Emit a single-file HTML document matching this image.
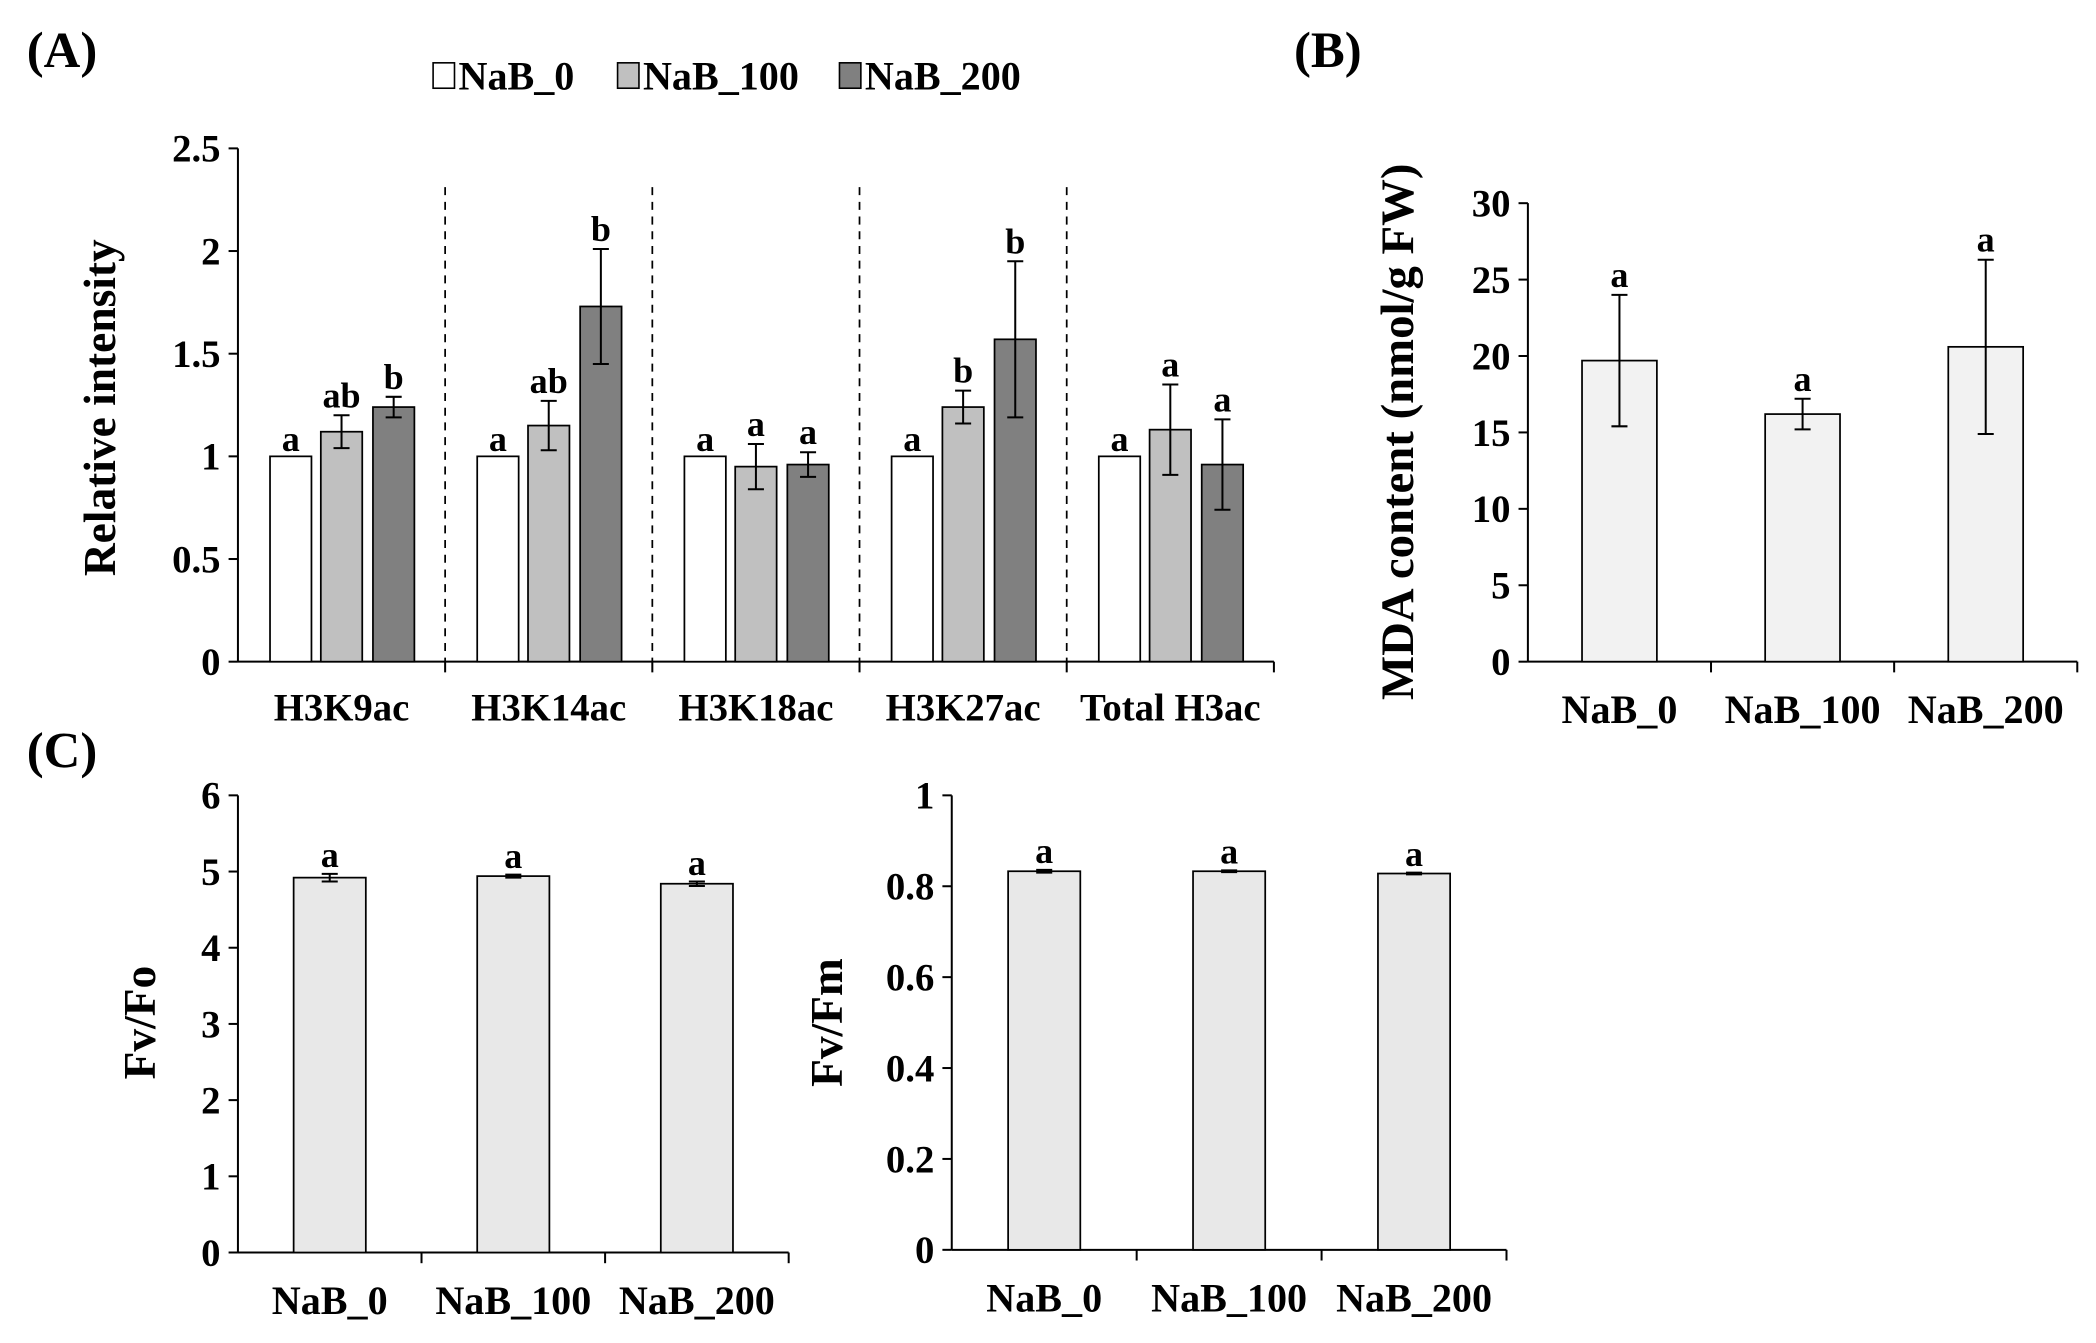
<!DOCTYPE html>
<html><head><meta charset="utf-8"><style>
html,body{margin:0;padding:0;background:#fff;}
svg{display:block;font-family:"Liberation Serif",serif;font-weight:bold;}
</style></head><body>
<svg id="fig" width="2096" height="1343" viewBox="0 0 1568 1004.7" preserveAspectRatio="none" xmlns="http://www.w3.org/2000/svg">
<text x="20" y="50" font-size="38">(A)</text>
<text x="968" y="50" font-size="38">(B)</text>
<text x="20" y="574" font-size="38">(C)</text>
<g>
<rect x="324" y="47" width="16" height="19" fill="#fff" stroke="#000" stroke-width="1.2"/>
<text x="343" y="67" font-size="30">NaB_0</text>
<rect x="462" y="47" width="16" height="19" fill="#c0c0c0" stroke="#000" stroke-width="1.2"/>
<text x="481" y="67" font-size="30">NaB_100</text>
<rect x="628" y="47" width="16" height="19" fill="#808080" stroke="#000" stroke-width="1.2"/>
<text x="647" y="67" font-size="30">NaB_200</text>
</g>
<g id="pa"></g>
<g id="pb"></g>
<g id="pc1"></g>
<g id="pc2"></g>
</svg>
<script>
// Panel A data
const aGroups = ["H3K9ac","H3K14ac","H3K18ac","H3K27ac","Total H3ac"];
const aNaB0 = [1,1,1,1,1];
const aNaB100 = [1.12,1.15,0.95,1.24,1.13];
const aNaB200 = [1.24,1.73,0.96,1.57,0.96];
const aErr0 = [0,0,0,0,0];
const aErr100 = [0.08,0.12,0.11,0.08,0.22];
const aErr200 = [0.05,0.28,0.06,0.38,0.22];
const aLet0 = ["a","a","a","a","a"];
const aLet100 = ["ab","ab","a","b","a"];
const aLet200 = ["b","b","a","b","a"];
const aTicks = [0,0.5,1,1.5,2,2.5];
const aTickLabels = ["0","0.5","1","1.5","2","2.5"];
// Panel B data
const bCats = ["NaB_0","NaB_100","NaB_200"];
const bVals = [19.7,16.2,20.6];
const bErr = [4.3,1.0,5.7];
const bLet = ["a","a","a"];
const bTicks = [0,5,10,15,20,25,30];
// Panel C data
const cCats = ["NaB_0","NaB_100","NaB_200"];
const cFvFo = [4.92,4.94,4.84];
const cFvFoErr = [0.05,0.02,0.03];
const cFvFm = [0.833,0.833,0.828];
const cFvFmErr = [0.003,0.002,0.002];
const cLet = ["a","a","a"];
const cFoTicks = [0,1,2,3,4,5,6];
const cFmTicks = [0,0.2,0.4,0.6,0.8,1];

const NS="http://www.w3.org/2000/svg";
function mk(parent,tag,attrs,txt){const e=document.createElementNS(NS,tag);for(const k in attrs)e.setAttribute(k,attrs[k]);if(txt!==undefined)e.textContent=txt;parent.appendChild(e);return e;}

function axes(g,o){
  const y=v=>o.y0-(v-o.min)/(o.max-o.min)*(o.y0-o.y1);
  const ax=mk(g,'line',{x1:o.x0,y1:o.y1,x2:o.x0,y2:o.y0,stroke:'#000','stroke-width':1.5});
  
  
  const xa=mk(g,'line',{x1:o.x0,y1:o.y0,x2:o.x2,y2:o.y0,stroke:'#000','stroke-width':1.5});
  
  
  o.ticks.forEach((t,i)=>{
    mk(g,'line',{x1:o.x0-7,y1:y(t),x2:o.x0,y2:y(t),stroke:'#000','stroke-width':1.5});
    const tl=mk(g,'text',{x:o.x0-13,y:y(t)+10,'font-size':29,'text-anchor':'end'},o.labels?o.labels[i]:String(t));
    
    
  });
  const lab=mk(g,'text',{transform:`translate(${o.lx},${o.ly}) rotate(-90)`,'font-size':o.lfs||34,'text-anchor':'middle'},o.title);
  
  
  return y;
}
function bar(g,x,w,y,v,e,fill,letter,y0,dy){
  const r=mk(g,'rect',{x:x,y:y(v),width:w,height:y0-y(v),fill:fill,stroke:'#000','stroke-width':1.3});
  
  
  const cx=x+w/2;
  if(e>0){
    mk(g,'line',{x1:cx,y1:y(v+e),x2:cx,y2:y(v-e),stroke:'#000','stroke-width':1.5});
    mk(g,'line',{x1:cx-6,y1:y(v+e),x2:cx+6,y2:y(v+e),stroke:'#000','stroke-width':1.5});
    mk(g,'line',{x1:cx-6,y1:y(v-e),x2:cx+6,y2:y(v-e),stroke:'#000','stroke-width':1.5});
  }
  const t=mk(g,'text',{x:cx,y:y(v+e)-(dy||6),'font-size':27,'text-anchor':'middle'},letter);
  
  
}

// Panel A
(function(){
  const g=document.getElementById('pa');
  const o={x0:178,x2:953,y0:495,y1:111,min:0,max:2.5,ticks:aTicks,labels:aTickLabels,title:'Relative intensity',lx:86,ly:305};
  const y=axes(g,o);
  const gw=155;
  aGroups.forEach((c,i)=>{
    const gx=o.x0+i*gw;
    mk(g,'line',{x1:gx+gw,y1:o.y0,x2:gx+gw,y2:o.y0+8,stroke:'#000','stroke-width':1.5});
    if(i<aGroups.length-1){const d=mk(g,'line',{x1:gx+gw,y1:140,x2:gx+gw,y2:o.y0,stroke:'#000','stroke-width':1.3,'stroke-dasharray':'6,5'});
      
      }
    bar(g,gx+24,31,y,aNaB0[i],aErr0[i],'#fff',aLet0[i],o.y0,4);
    bar(g,gx+62,31,y,aNaB100[i],aErr100[i],'#c0c0c0',aLet100[i],o.y0);
    bar(g,gx+101,31,y,aNaB200[i],aErr200[i],'#808080',aLet200[i],o.y0);
    const t=mk(g,'text',{x:gx+gw/2,y:539,'font-size':29,'text-anchor':'middle'},c);
    
    
  });
})();

function simple(id,o,cats,vals,errs,lets,fill){
  const g=document.getElementById(id);
  const y=axes(g,o);
  const sp=(o.x2-o.x0)/cats.length;
  cats.forEach((c,i)=>{
    const cx=o.x0+sp*(i+0.5);
    mk(g,'line',{x1:o.x0+sp*(i+1),y1:o.y0,x2:o.x0+sp*(i+1),y2:o.y0+8,stroke:'#000','stroke-width':1.5});
    bar(g,cx-o.bw/2,o.bw,y,vals[i],errs[i],fill,lets[i],o.y0,o.ldy);
    const t=mk(g,'text',{x:cx,y:o.xly,'font-size':30,'text-anchor':'middle'},c);
    
    
  });
}
simple('pb',{x0:1143,x2:1554,y0:495,y1:152,min:0,max:30,ticks:bTicks,title:'MDA content (nmol/g FW)',lx:1057,ly:323,bw:56,xly:541,lfs:35},bCats,bVals,bErr,bLet,'#f2f2f2');
simple('pc1',{x0:178,x2:590,y0:937,y1:595,min:0,max:6,ticks:cFoTicks,title:'Fv/Fo',lx:116,ly:765,bw:54,xly:983,ldy:5},cCats,cFvFo,cFvFoErr,cLet,'#e8e8e8');
simple('pc2',{x0:712,x2:1127,y0:935,y1:595,min:0,max:1,ticks:cFmTicks,title:'Fv/Fm',lx:630,ly:765,bw:54,xly:981,ldy:5},cCats,cFvFm,cFvFmErr,cLet,'#e8e8e8');
</script>
</body></html>
